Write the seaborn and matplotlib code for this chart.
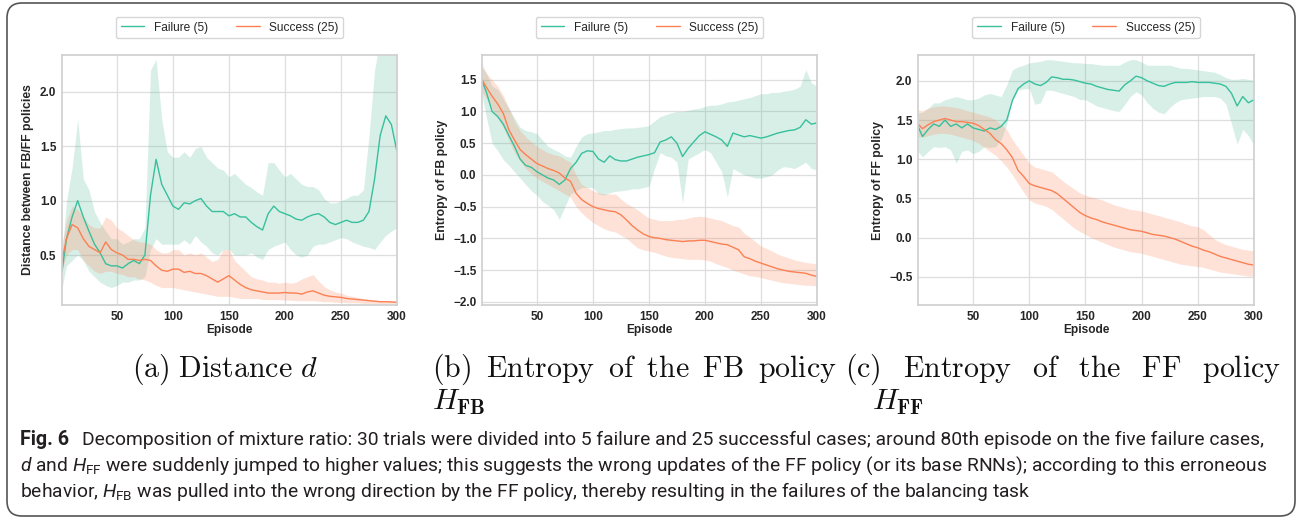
import numpy as np
import pandas as pd
import matplotlib
matplotlib.use("Agg")
import matplotlib.pyplot as plt
from matplotlib import font_manager
from matplotlib.patches import FancyBboxPatch
import seaborn as sns

episodes = [1] + list(range(5, 301, 5))

# (a) distance between FB/FF policies
dist_fail_mean = [0.35, 0.65, 0.85, 1.0, 0.85, 0.72, 0.6, 0.52, 0.42, 0.4,
                  0.4, 0.38, 0.42, 0.45, 0.42, 0.5, 1.05, 1.38, 1.15, 1.05,
                  0.95, 0.92, 0.98, 0.97, 1.0, 1.02, 0.95, 0.9, 0.9, 0.9,
                  0.86, 0.88, 0.85, 0.85, 0.8, 0.76, 0.73, 0.88, 0.95, 0.9,
                  0.88, 0.86, 0.83, 0.82, 0.85, 0.87, 0.88, 0.85, 0.8, 0.78,
                  0.8, 0.82, 0.8, 0.8, 0.82, 0.9, 1.2, 1.6, 1.78, 1.7, 1.45]
dist_fail_lo = [0.2, 0.4, 0.45, 0.5, 0.45, 0.35, 0.3, 0.25, 0.22, 0.2,
                0.22, 0.25, 0.25, 0.27, 0.27, 0.3, 0.55, 0.65, 0.6, 0.6,
                0.6, 0.6, 0.64, 0.6, 0.68, 0.62, 0.58, 0.52, 0.5, 0.55,
                0.55, 0.5, 0.5, 0.5, 0.52, 0.48, 0.46, 0.55, 0.58, 0.6,
                0.62, 0.55, 0.5, 0.48, 0.5, 0.58, 0.6, 0.6, 0.62, 0.64,
                0.66, 0.65, 0.62, 0.6, 0.58, 0.57, 0.55, 0.62, 0.68, 0.72, 0.75]
dist_fail_hi = [0.5, 1.0, 1.3, 1.75, 1.2, 1.1, 0.9, 0.8, 0.72, 0.65,
                0.65, 0.6, 0.62, 0.65, 0.65, 0.75, 2.2, 2.3, 1.75, 1.45,
                1.4, 1.4, 1.45, 1.4, 1.48, 1.5, 1.4, 1.35, 1.3, 1.28,
                1.22, 1.25, 1.2, 1.15, 1.12, 1.08, 1.05, 1.35, 1.35, 1.28,
                1.22, 1.25, 1.2, 1.15, 1.13, 1.13, 1.1, 1.02, 0.98, 0.98,
                1.0, 1.02, 1.05, 1.05, 1.1, 1.6, 2.2, 2.5, 2.5, 2.5, 2.5]
dist_succ_mean = [0.45, 0.65, 0.78, 0.75, 0.65, 0.58, 0.55, 0.52, 0.62, 0.55,
                  0.52, 0.5, 0.46, 0.46, 0.45, 0.46, 0.45, 0.4, 0.36, 0.35,
                  0.37, 0.37, 0.34, 0.35, 0.33, 0.33, 0.31, 0.28, 0.25, 0.28,
                  0.31, 0.27, 0.23, 0.2, 0.18, 0.17, 0.16, 0.15, 0.15, 0.15,
                  0.155, 0.15, 0.15, 0.14, 0.16, 0.17, 0.15, 0.13, 0.12, 0.115,
                  0.11, 0.1, 0.095, 0.09, 0.085, 0.08, 0.075, 0.07, 0.07, 0.068, 0.065]
dist_succ_lo = [0.35, 0.5, 0.55, 0.55, 0.45, 0.4, 0.35, 0.33, 0.35, 0.35,
                0.33, 0.32, 0.3, 0.3, 0.28, 0.27, 0.25, 0.22, 0.2, 0.2,
                0.2, 0.19, 0.18, 0.17, 0.16, 0.15, 0.14, 0.13, 0.12, 0.12,
                0.12, 0.11, 0.1, 0.1, 0.1, 0.1, 0.09, 0.09, 0.09, 0.09,
                0.085, 0.085, 0.08, 0.08, 0.08, 0.08, 0.075, 0.07, 0.07, 0.065,
                0.065, 0.06, 0.06, 0.06, 0.055, 0.055, 0.055, 0.055, 0.055, 0.055, 0.055]
dist_succ_hi = [0.6, 0.82, 0.95, 0.92, 0.85, 0.78, 0.75, 0.75, 0.85, 0.82,
                0.75, 0.72, 0.68, 0.64, 0.62, 0.62, 0.6, 0.55, 0.52, 0.52,
                0.55, 0.55, 0.5, 0.52, 0.5, 0.52, 0.48, 0.44, 0.46, 0.55,
                0.55, 0.45, 0.4, 0.35, 0.3, 0.28, 0.27, 0.25, 0.25, 0.24,
                0.25, 0.24, 0.25, 0.28, 0.3, 0.32, 0.26, 0.21, 0.18, 0.16,
                0.15, 0.13, 0.12, 0.11, 0.1, 0.09, 0.085, 0.08, 0.08, 0.078, 0.075]

# (b) entropy of the FB policy
fb_fail_mean = [1.48, 1.3, 1.0, 0.92, 0.8, 0.62, 0.45, 0.25, 0.15, 0.12,
                0.05, 0.0, -0.05, -0.08, -0.15, -0.08, 0.1, 0.2, 0.34, 0.38,
                0.37, 0.25, 0.2, 0.3, 0.24, 0.22, 0.22, 0.25, 0.28, 0.3,
                0.32, 0.35, 0.52, 0.55, 0.6, 0.5, 0.29, 0.42, 0.52, 0.62,
                0.68, 0.64, 0.6, 0.55, 0.45, 0.66, 0.63, 0.6, 0.62, 0.6,
                0.58, 0.6, 0.63, 0.66, 0.68, 0.7, 0.71, 0.75, 0.87, 0.8, 0.82]
fb_fail_lo = [1.25, 0.9, 0.5, 0.38, 0.24, 0.15, 0.05, -0.05, -0.15, -0.25,
              -0.32, -0.42, -0.48, -0.55, -0.7, -0.5, -0.3, -0.25, -0.2, -0.2,
              -0.2, -0.3, -0.32, -0.28, -0.26, -0.25, -0.24, -0.22, -0.22, -0.2,
              -0.18, 0.1, 0.35, 0.3, 0.28, 0.2, -0.45, 0.25, 0.3, 0.35,
              0.4, 0.35, 0.2, 0.05, -0.35, 0.1, 0.05, 0.0, -0.02, -0.05,
              -0.05, -0.03, 0.0, 0.08, 0.13, 0.12, 0.1, 0.15, 0.2, 0.1, 0.08]
fb_fail_hi = [1.7, 1.6, 1.4, 1.35, 1.2, 1.05, 0.9, 0.75, 0.7, 0.68,
              0.65, 0.55, 0.45, 0.4, 0.36, 0.3, 0.28, 0.45, 0.6, 0.65,
              0.66, 0.68, 0.7, 0.7, 0.72, 0.73, 0.74, 0.74, 0.75, 0.76,
              0.78, 0.85, 0.92, 0.95, 0.98, 1.0, 1.0, 1.02, 1.04, 1.05,
              1.08, 1.1, 1.1, 1.12, 1.15, 1.16, 1.18, 1.2, 1.22, 1.25,
              1.28, 1.28, 1.3, 1.3, 1.32, 1.33, 1.35, 1.4, 1.66, 1.45, 1.4]
fb_succ_mean = [1.5, 1.38, 1.24, 1.12, 0.97, 0.71, 0.55, 0.4, 0.32, 0.25,
                0.18, 0.14, 0.1, 0.07, 0.03, -0.05, -0.1, -0.29, -0.39, -0.45,
                -0.5, -0.53, -0.55, -0.57, -0.58, -0.63, -0.71, -0.8, -0.87, -0.93,
                -0.97, -0.99, -1.0, -1.02, -1.03, -1.04, -1.05, -1.04, -1.04, -1.03,
                -1.03, -1.05, -1.07, -1.09, -1.1, -1.14, -1.18, -1.29, -1.32, -1.36,
                -1.39, -1.42, -1.45, -1.48, -1.5, -1.52, -1.53, -1.54, -1.55, -1.58, -1.6]
fb_succ_lo = [1.3, 1.2, 1.05, 0.9, 0.75, 0.55, 0.35, 0.22, 0.1, 0.02,
              -0.05, -0.1, -0.15, -0.2, -0.25, -0.3, -0.35, -0.5, -0.6, -0.68,
              -0.75, -0.8, -0.85, -0.88, -0.9, -0.95, -1.0, -1.08, -1.15, -1.18,
              -1.2, -1.22, -1.25, -1.28, -1.3, -1.31, -1.32, -1.33, -1.33, -1.33,
              -1.34, -1.36, -1.4, -1.43, -1.46, -1.5, -1.53, -1.56, -1.59, -1.6,
              -1.62, -1.64, -1.66, -1.68, -1.7, -1.71, -1.72, -1.73, -1.74, -1.74, -1.75]
fb_succ_hi = [1.75, 1.6, 1.5, 1.4, 1.25, 1.05, 0.85, 0.7, 0.6, 0.52,
              0.45, 0.4, 0.35, 0.32, 0.3, 0.25, 0.2, 0.0, -0.15, -0.2,
              -0.25, -0.28, -0.3, -0.3, -0.3, -0.38, -0.45, -0.5, -0.55, -0.62,
              -0.68, -0.7, -0.72, -0.72, -0.72, -0.7, -0.7, -0.68, -0.66, -0.65,
              -0.66, -0.68, -0.7, -0.72, -0.76, -0.8, -0.82, -0.92, -0.98, -1.05,
              -1.12, -1.16, -1.2, -1.25, -1.28, -1.31, -1.34, -1.36, -1.38, -1.39, -1.4]

# (c) entropy of the FF policy
ff_fail_mean = [1.42, 1.29, 1.38, 1.45, 1.42, 1.5, 1.42, 1.45, 1.4, 1.45,
                1.4, 1.38, 1.36, 1.4, 1.38, 1.42, 1.5, 1.75, 1.9, 1.96,
                2.0, 1.96, 1.94, 1.98, 2.05, 2.04, 2.02, 2.02, 2.01, 1.99,
                1.97, 1.96, 1.93, 1.91, 1.89, 1.88, 1.87, 1.95, 2.0, 2.06,
                2.04, 2.0, 1.97, 1.94, 1.93, 1.96, 1.98, 1.98, 1.98, 1.99,
                1.98, 1.98, 1.98, 1.97, 1.96, 1.93, 1.84, 1.68, 1.8, 1.72, 1.76]
ff_fail_lo = [1.1, 1.03, 1.1, 1.16, 1.15, 1.16, 1.12, 0.95, 1.1, 1.12,
              1.07, 1.1, 1.16, 1.15, 1.16, 1.25, 1.45, 1.75, 1.88, 1.9,
              1.9, 1.7, 1.72, 1.88, 1.88, 1.86, 1.84, 1.82, 1.8, 1.76,
              1.76, 1.72, 1.68, 1.66, 1.64, 1.62, 1.61, 1.7, 1.8, 1.86,
              1.82, 1.72, 1.65, 1.6, 1.58, 1.66, 1.72, 1.76, 1.77, 1.78,
              1.79, 1.8, 1.8, 1.8, 1.78, 1.7, 1.45, 1.19, 1.38, 1.3, 1.18]
ff_fail_hi = [1.59, 1.6, 1.65, 1.72, 1.72, 1.76, 1.78, 1.8, 1.78, 1.76,
              1.76, 1.78, 1.82, 1.84, 1.82, 1.8, 1.95, 2.14, 2.18, 2.2,
              2.23, 2.24, 2.25, 2.27, 2.27, 2.26, 2.25, 2.24, 2.23, 2.23,
              2.22, 2.22, 2.21, 2.2, 2.2, 2.2, 2.2, 2.24, 2.27, 2.27,
              2.24, 2.2, 2.2, 2.2, 2.2, 2.2, 2.18, 2.16, 2.16, 2.15,
              2.14, 2.13, 2.12, 2.11, 2.08, 2.04, 2.02, 2.02, 2.03, 2.02, 2.01]
ff_succ_mean = [1.45, 1.39, 1.44, 1.48, 1.5, 1.52, 1.5, 1.48, 1.48, 1.47,
                1.46, 1.43, 1.38, 1.33, 1.25, 1.2, 1.12, 1.02, 0.86, 0.78,
                0.69, 0.66, 0.64, 0.62, 0.6, 0.56, 0.5, 0.44, 0.38, 0.32,
                0.28, 0.25, 0.23, 0.2, 0.18, 0.16, 0.14, 0.12, 0.1, 0.09,
                0.08, 0.06, 0.04, 0.03, 0.02, 0.0, -0.02, -0.05, -0.08, -0.11,
                -0.13, -0.16, -0.18, -0.21, -0.24, -0.26, -0.28, -0.3, -0.32, -0.34, -0.35]
ff_succ_lo = [1.29, 1.28, 1.3, 1.32, 1.33, 1.33, 1.32, 1.3, 1.28, 1.26,
              1.24, 1.2, 1.15, 1.1, 1.05, 0.98, 0.9, 0.8, 0.69, 0.58,
              0.48, 0.44, 0.42, 0.4, 0.36, 0.3, 0.24, 0.18, 0.12, 0.08,
              0.04, 0.0, -0.03, -0.06, -0.09, -0.12, -0.14, -0.16, -0.18, -0.19,
              -0.2, -0.22, -0.24, -0.26, -0.28, -0.3, -0.32, -0.34, -0.35, -0.36,
              -0.37, -0.38, -0.4, -0.42, -0.44, -0.45, -0.46, -0.47, -0.48, -0.49, -0.49]
ff_succ_hi = [1.63, 1.62, 1.65, 1.67, 1.68, 1.68, 1.67, 1.66, 1.64, 1.62,
              1.6, 1.58, 1.56, 1.54, 1.5, 1.44, 1.38, 1.25, 1.15, 1.05,
              0.95, 0.9, 0.88, 0.86, 0.84, 0.78, 0.72, 0.67, 0.62, 0.57,
              0.54, 0.52, 0.5, 0.48, 0.45, 0.42, 0.4, 0.38, 0.36, 0.35,
              0.34, 0.32, 0.3, 0.28, 0.26, 0.24, 0.22, 0.2, 0.17, 0.15,
              0.14, 0.1, 0.04, -0.02, -0.06, -0.09, -0.11, -0.13, -0.15, -0.16, -0.17]

case_labels = ["Failure (5)", "Success (25)"]
x_ticks = [50, 100, 150, 200, 250, 300]

W, H = 1303, 519
LINE_COLORS = ["#36c09b", "#fc8053"]
BAND_COLORS = ["#66c2a5", "#fc8d62"]

sns.set_theme(style="whitegrid")
plt.rcParams["font.family"] = ["Liberation Sans", "DejaVu Sans"]

# caption font
names = {f.name for f in font_manager.fontManager.ttflist}
cap_family = "Roboto" if "Roboto" in names else "Liberation Sans"
plt.rcParams["mathtext.fontset"] = "custom"
plt.rcParams["mathtext.rm"] = cap_family
plt.rcParams["mathtext.it"] = cap_family + ":italic"
plt.rcParams["mathtext.bf"] = cap_family + ":bold"

fig = plt.figure(figsize=(W / 100, H / 100), dpi=100)


def px_axes(left, top, right, bottom):
    return fig.add_axes([left / W, 1 - bottom / H, (right - left) / W, (bottom - top) / H])


def draw_panel(ax, fail, succ, ylabel, ylim, yticks):
    n = len(episodes)
    for (mean, lo, hi), band in zip((fail, succ), BAND_COLORS):
        ax.fill_between(episodes, lo, hi, color=band, alpha=0.25, linewidth=0)
    df = pd.DataFrame({
        "Episode": episodes * 2,
        "value": fail[0] + succ[0],
        "case": [case_labels[0]] * n + [case_labels[1]] * n,
    })
    sns.lineplot(data=df, x="Episode", y="value", hue="case",
                 palette=LINE_COLORS, linewidth=1.0, ax=ax)
    ax.set_xlim(1, 300)
    ax.set_ylim(*ylim)
    ax.set_xticks(x_ticks, labels=[str(t) for t in x_ticks],
                  fontsize=8.5, fontweight="bold")
    ax.set_yticks(yticks, labels=[f"{v:.1f}".replace("-", "\u2212") for v in yticks],
                  fontsize=8.5, fontweight="bold")
    ax.tick_params(length=0, pad=4)
    ax.set_xlabel("Episode", fontsize=8.6, fontweight="bold", labelpad=1)
    ax.set_ylabel(ylabel, fontsize=8.8, fontweight="bold", labelpad=4)
    for s in ax.spines.values():
        s.set_color("#d0d0d0")
    ax.grid(color="#dedede", linewidth=0.9)
    sns.move_legend(ax, "center", bbox_to_anchor=(0.5, 1.11), ncol=2, title=None,
                    frameon=True, fontsize=8.6, handlelength=2.0, columnspacing=2.3)


ax_a = px_axes(62, 55, 397, 305)
draw_panel(ax_a, (dist_fail_mean, dist_fail_lo, dist_fail_hi),
           (dist_succ_mean, dist_succ_lo, dist_succ_hi),
           "Distance between FB/FF policies", (0.04, 2.34), [0.5, 1.0, 1.5, 2.0])

ax_b = px_axes(482, 55, 817, 305)
draw_panel(ax_b, (fb_fail_mean, fb_fail_lo, fb_fail_hi),
           (fb_succ_mean, fb_succ_lo, fb_succ_hi),
           "Entropy of FB policy", (-2.05, 1.89),
           [-2.0, -1.5, -1.0, -0.5, 0.0, 0.5, 1.0, 1.5])

ax_c = px_axes(918, 55, 1254, 305)
draw_panel(ax_c, (ff_fail_mean, ff_fail_lo, ff_fail_hi),
           (ff_succ_mean, ff_succ_lo, ff_succ_hi),
           "Entropy of FF policy", (-0.86, 2.33),
           [-0.5, 0.0, 0.5, 1.0, 1.5, 2.0])

# sub-figure captions (LaTeX look)
sub_kw = dict(fontsize=21.5, math_fontfamily="cm", color="#111111", va="baseline")
fig.text(225 / W, 1 - 377 / H, r"$\mathrm{(a)\ Distance}\ d$", ha="center", **sub_kw)
fig.text(432 / W, 1 - 377 / H,
         r"$\mathrm{(b)\ \:Entropy\ \:of\ \:the\ \:FB\ \:policy}$", ha="left", **sub_kw)
fig.text(432 / W, 1 - 410 / H, r"$H_{\mathbf{FB}}$", ha="left", **sub_kw)
fig.text(845 / W, 1 - 377 / H,
         r"$\mathrm{(c)\ \ \,Entropy\ \ \,of\ \ \,the\ \ \,FF\ \ \,policy}$", ha="left", **sub_kw)
fig.text(872 / W, 1 - 410 / H, r"$H_{\mathbf{FF}}$", ha="left", **sub_kw)

# figure caption
cap1 = ("Decomposition of mixture ratio: 30 trials were divided into 5 failure and "
        "25 successful cases; around 80th episode on the five failure cases,")
cap2 = (r"$d$ and $H_{\mathrm{FF}}$ were suddenly jumped to higher values; this suggests "
        r"the wrong updates of the FF policy (or its base RNNs); according to this erroneous")
cap3 = (r"behavior, $H_{\mathrm{FB}}$ was pulled into the wrong direction by the FF policy, "
        r"thereby resulting in the failures of the balancing task")
cap_kw = dict(family=cap_family, color="#231f20", va="baseline", ha="left",
              math_fontfamily="custom")
t2 = fig.text(20 / W, 1 - 471 / H, cap2, fontsize=12, **cap_kw)
fig.canvas.draw()
fs = 12 * 1243 / t2.get_window_extent().width
t2.set_fontsize(fs)
fig.text(20 / W, 1 - 445 / H, "Fig. 6", fontsize=fs * 1.03, fontweight="bold", **cap_kw)
fig.text(82 / W, 1 - 445 / H, cap1, fontsize=fs, **cap_kw)
fig.text(20 / W, 1 - 497 / H, cap3, fontsize=fs, **cap_kw)

# rounded frame round the whole figure
fig.add_artist(FancyBboxPatch((0.07, 0.03), 12.88, 5.13,
                              boxstyle="round,pad=0,rounding_size=0.15",
                              transform=fig.dpi_scale_trans, fill=False,
                              edgecolor="#555555", linewidth=1.2))

fig.savefig("out.png", dpi=100)
